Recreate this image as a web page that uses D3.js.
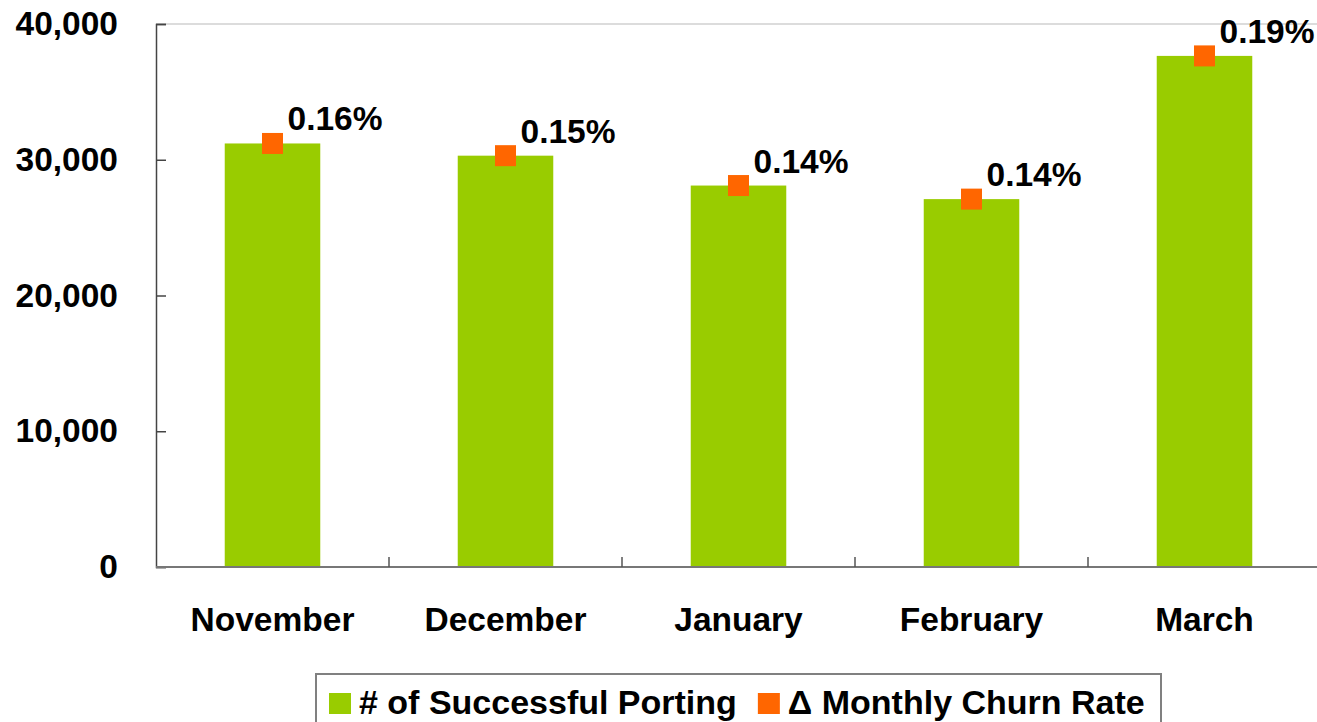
<html>
<head>
<script src="https://d3js.org/d3.v7.min.js"></script>
<style>
  body { margin: 0; background: #fff; }
  text { font-family: "Liberation Sans", Arial, sans-serif; font-weight: bold; fill: #000; }
</style>
</head>
<body>
<div id="chart"></div>
<script>
// data
const months = ["November", "December", "January", "February", "March"];
const porting = [31200, 30300, 28100, 27100, 37650];
const churnRate = [0.16, 0.15, 0.14, 0.14, 0.19];
const yTicks = [0, 10000, 20000, 30000, 40000];
const legendLabels = ["# of Successful Porting", "\u0394 Monthly Churn Rate"];

const width = 1317, height = 722;
const plot = {left: 156, top: 24, right: 1321, bottom: 567};
const green = "#99cc00", orange = "#ff6600";

const svg = d3.select("#chart").append("svg")
  .attr("width", width)
  .attr("height", height);

var x = d3.scaleBand()
  .domain(months)
  .range([plot.left, plot.right])
  .paddingInner(0.59)
  .paddingOuter(0.295);

var y = d3.scaleLinear()
  .domain([0, 40000])
  .range([plot.bottom, plot.top]);

// top frame line
svg.append("line")
  .attr("x1", plot.left).attr("x2", plot.right)
  .attr("y1", plot.top).attr("y2", plot.top)
  .attr("stroke", "#d0d0d0").attr("stroke-width", 1.5);

// bars
svg.selectAll(".bar")
  .data(months)
  .enter()
  .append("rect")
  .attr("class", "bar")
  .attr("x", d => x(d))
  .attr("width", x.bandwidth())
  .attr("y", (d, i) => y(porting[i]))
  .attr("height", (d, i) => y(0) - y(porting[i]))
  .attr("fill", green);

// y axis
var yaxis = d3.axisLeft(y)
  .tickValues(yTicks)
  .tickSize(-10)
  .tickPadding(38)
  .tickFormat(d3.format(","));

const gy = svg.append("g")
  .attr("transform", "translate(" + plot.left + ",0)")
  .call(yaxis);
gy.select(".domain").attr("stroke", "#444").attr("stroke-width", 1.5);
gy.selectAll(".tick line").attr("stroke", "#444").attr("stroke-width", 1.5);
gy.selectAll(".tick text")
  .attr("font-size", 33.5)
  .attr("font-family", null)
  .attr("fill", "#000");

// x axis baseline + boundary ticks
svg.append("line")
  .attr("x1", plot.left).attr("x2", plot.right)
  .attr("y1", y(0)).attr("y2", y(0))
  .attr("stroke", "#777").attr("stroke-width", 2);

const gap = (x.step() - x.bandwidth()) / 2;
svg.selectAll(".xtick")
  .data(months.slice(1))
  .enter()
  .append("line")
  .attr("class", "xtick")
  .attr("x1", d => x(d) - gap).attr("x2", d => x(d) - gap)
  .attr("y1", y(0)).attr("y2", y(0) - 10)
  .attr("stroke", "#555").attr("stroke-width", 1.5);

svg.selectAll(".xlabel")
  .data(months)
  .enter()
  .append("text")
  .attr("class", "xlabel")
  .attr("x", d => x(d) + x.bandwidth() / 2)
  .attr("y", y(0) + 64)
  .attr("text-anchor", "middle")
  .attr("font-size", 33.5)
  .text(d => d);

// churn markers
svg.selectAll(".marker")
  .data(months)
  .enter()
  .append("rect")
  .attr("class", "marker")
  .attr("x", d => x(d) + x.bandwidth() / 2 - 10.5)
  .attr("y", (d, i) => y(porting[i]) - 10.5)
  .attr("width", 21)
  .attr("height", 21)
  .attr("fill", orange);

svg.selectAll(".rate")
  .data(months)
  .enter()
  .append("text")
  .attr("class", "rate")
  .attr("x", d => x(d) + x.bandwidth() / 2 + 15)
  .attr("y", (d, i) => y(porting[i]) - 13)
  .attr("font-size", 33.5)
  .text((d, i) => churnRate[i].toFixed(2) + "%");

// legend
const lg = svg.append("g");
lg.append("rect")
  .attr("x", 316).attr("y", 674)
  .attr("width", 845).attr("height", 70)
  .attr("fill", "none")
  .attr("stroke", "#808080").attr("stroke-width", 2);

var lx = 329;
[green, orange].forEach((c, i) => {
  lg.append("rect")
    .attr("x", lx).attr("y", 693)
    .attr("width", 22).attr("height", 21)
    .attr("fill", c);
  const t = lg.append("text")
    .attr("x", lx + 30)
    .attr("y", 714)
    .attr("font-size", 34)
    .text(legendLabels[i]);
  lx = lx + 30 + t.node().getComputedTextLength() + 21;
});
</script>
</body>
</html>
